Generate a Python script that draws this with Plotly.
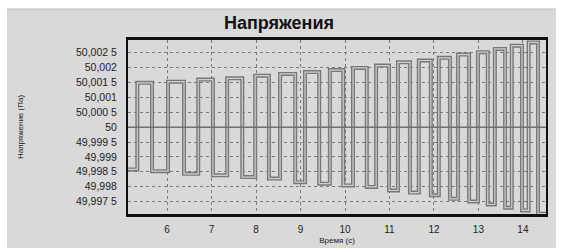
import plotly.graph_objects as go

# --- data ---
t_start = 5.12
t_end = 14.52
up_start = [5.33, 6.02, 6.70, 7.35, 7.98, 8.54, 9.10, 9.66, 10.18, 10.70, 11.19, 11.66, 12.11, 12.54, 12.99, 13.37, 13.75, 14.13]
up_end = [5.66, 6.38, 7.03, 7.69, 8.29, 8.88, 9.42, 9.96, 10.49, 10.99, 11.46, 11.93, 12.36, 12.79, 13.21, 13.60, 13.98, 14.34]
upper_vals = [50.00149, 50.00153, 50.00160, 50.00164, 50.00173, 50.00179, 50.00185, 50.00192, 50.00199,
              50.00207, 50.00218, 50.00224, 50.00233, 50.00244, 50.00252, 50.00263, 50.00274, 50.00285]
lower_vals = [49.99858, 49.99852, 49.99843, 49.99838, 49.99832, 49.99827, 49.99815, 49.99810, 49.99804, 49.99799,
              49.99787, 49.99780, 49.99771, 49.99759, 49.99750, 49.99740, 49.99729, 49.99720, 49.99709]
base_level = 50
x_ticks = [6, 7, 8, 9, 10, 11, 12, 13, 14]
y_tickvals = [49.9975, 49.998, 49.9985, 49.999, 49.9995, 50.0, 50.0005, 50.001, 50.0015, 50.002, 50.0025]
y_ticktext = ["49,997 5", "49,998", "49,998 5", "49,999", "49,999 5", "50",
              "50,000 5", "50,001", "50,001 5", "50,002", "50,002 5"]

xs = [t_start]
ys = [lower_vals[0]]
for i in range(len(upper_vals)):
    xs.append(up_start[i]); ys.append(upper_vals[i])
    xs.append(up_end[i]); ys.append(lower_vals[i + 1])
xs.append(t_end); ys.append(lower_vals[-1])

fig = go.Figure()
fig.add_trace(go.Scatter(x=xs, y=ys, mode="lines", line=dict(shape="hv", color="#787878", width=4),
                         showlegend=False, hoverinfo="skip"))
fig.add_trace(go.Scatter(x=xs, y=ys, mode="lines", line=dict(shape="hv", color="#cfcfcf", width=1.2),
                         showlegend=False, hoverinfo="skip"))

W, H = 566, 248
L, R, T, B = 128, 20, 40, 34
pw, ph = W - L - R, H - T - B

def px(xp):
    return (xp - L) / pw

def py(yp):
    return (H - B - yp) / ph

shapes = [
    dict(type="rect", xref="paper", yref="paper", x0=px(7), x1=px(556), y0=py(248), y1=py(9),
         fillcolor="#d9d9d9", line=dict(width=0), layer="below"),
    dict(type="line", xref="paper", yref="paper", x0=px(7), x1=px(556), y0=py(9), y1=py(9),
         line=dict(color="#bdbdbd", width=1), layer="below"),
    dict(type="line", xref="paper", yref="y", x0=0, x1=1, y0=base_level, y1=base_level,
         line=dict(color="#707070", width=1.5), layer="above"),
]

fig.update_layout(
    width=W, height=H,
    margin=dict(l=L, r=R, t=T, b=B, autoexpand=False),
    paper_bgcolor="#ffffff",
    plot_bgcolor="#e4e4e4",
    shapes=shapes,
    font=dict(family="Arial, Liberation Sans, sans-serif", color="#1a1a1a"),
    title=dict(text="<b>Напряжения</b>", x=279 / W, xanchor="center", y=1 - 23 / H, yanchor="middle",
               font=dict(size=18, color="#111111")),
    xaxis=dict(range=[t_start, t_end], tickvals=x_ticks, ticks="outside", ticklen=4, automargin=False,
               tickcolor="rgba(0,0,0,0)", tickfont=dict(size=10, color="#222"),
               showgrid=True, gridcolor="#7a7a7a", griddash="dot", gridwidth=1,
               showline=True, linecolor="#111111", linewidth=2.5, mirror=True, zeroline=False,
               title=dict(text="Время (с)", font=dict(size=8), standoff=4)),
    yaxis=dict(range=[49.99708, 50.00293], tickvals=y_tickvals, ticktext=y_ticktext, ticks="outside",
               ticklen=7, tickcolor="rgba(0,0,0,0)", automargin=False,
               tickfont=dict(size=10.5, color="#222"), showgrid=True, gridcolor="#7a7a7a", griddash="dot",
               gridwidth=1, showline=True, linecolor="#111111", linewidth=2, mirror=True, zeroline=False,
               title=dict(text="Напряжение (Па)", font=dict(size=8), standoff=51)),
)

fig.write_html("out.html", config={"displayModeBar": False},
               post_script="document.body.style.margin='0';")
